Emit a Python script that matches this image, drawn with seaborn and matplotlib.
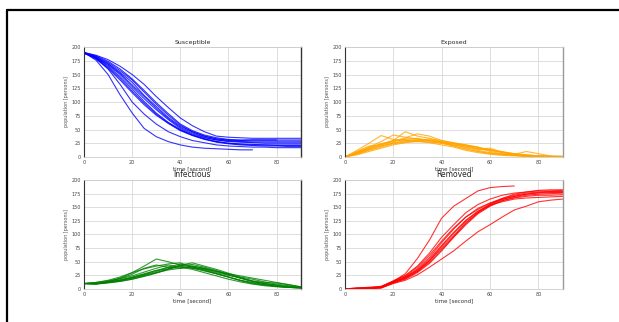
import numpy as np
import pandas as pd
import matplotlib
matplotlib.use("Agg")
import matplotlib.pyplot as plt
import seaborn as sns

# time grid of the simulation snapshots (seconds)
time = [0, 5, 10, 15, 20, 25, 30, 35, 40, 45, 50, 55, 60, 65, 70, 75, 80, 85, 90]
nan = np.nan

susceptible = [
    [190, 185, 177, 165, 150, 132, 110, 90, 71, 57, 46, 38, 36, 35, 34, 34, 34, 34, 34],
    [190, 176, 150, 113, 80, 52, 37, 28, 22, 18, 16, 15, 14, 13, 13, nan, nan, nan, nan],
    [190, 180, 160, 132, 100, 78, 60, 46, 37, 30, 26, 22, 20, 19, 18, 18, 17, 17, 17],
    [190, 182, 170, 154, 136, 112, 92, 72, 56, 46, 38, 33, 30, 29, 29, 29, 29, 29, 29],
    [189, 180, 167, 150, 128, 106, 86, 68, 52, 42, 35, 31, 29, 28, 27, 27, 27, 27, 27],
    [190, 181, 165, 146, 124, 101, 80, 63, 50, 40, 33, 28, 25, 23, 22, 22, 22, 22, 22],
    [189, 183, 172, 157, 140, 118, 96, 76, 58, 46, 38, 33, 31, 30, 31, 31, 31, nan, nan],
    [190, 179, 163, 143, 120, 98, 78, 62, 49, 40, 33, 28, 25, 24, 23, 22, 21, 21, 21],
    [188, 181, 169, 152, 131, 110, 89, 70, 54, 44, 36, 31, 28, 27, 26, 25, 25, 25, 25],
    [190, 184, 174, 160, 142, 121, 99, 79, 60, 48, 40, 35, 32, 31, 31, 31, 31, 31, 31],
    [190, 178, 161, 140, 117, 95, 76, 61, 48, 39, 32, 27, 24, 22, 21, 20, 20, 19, 19],
]

exposed = [
    [0, 8, 18, 28, 40, 36, 33, 30, 25, 20, 15, 10, 6, 4, 3, 2, 1, 1, 1],
    [0, 12, 25, 39, 32, 30, 28, 26, 22, 18, 12, 8, 5, 3, 2, 1, 1, 0, 0],
    [0, 6, 14, 20, 25, 30, 32, 28, 25, 22, 18, 14, 12, 10, 6, 4, 2, 1, 0],
    [0, 5, 12, 18, 24, 27, 30, 31, 28, 24, 20, 15, 16, 9, 5, 10, 6, 2, 1],
    [0, 10, 20, 22, 28, 35, 42, 38, 30, 25, 22, 18, 13, 8, 5, 3, 2, 1, 0],
    [0, 7, 15, 22, 30, 46, 38, 34, 28, 22, 17, 12, 8, 5, 3, 2, 1, nan, nan],
    [0, 9, 17, 24, 28, 32, 29, 27, 26, 24, 20, 15, 14, 8, 4, 2, 1, 1, 1],
    [0, 4, 10, 16, 22, 26, 28, 30, 27, 25, 21, 17, 12, 9, 6, 4, 2, 1, 1],
    [0, 8, 16, 24, 30, 33, 34, 30, 26, 20, 14, 10, 7, 5, 3, 2, 1, 1, 0],
    [0, 6, 13, 20, 26, 28, 30, 33, 30, 26, 22, 18, 10, 6, 4, 2, 2, 1, 1],
]

infectious = [
    [10, 9, 13, 20, 30, 42, 55, 50, 44, 40, 35, 28, 22, 16, 12, 8, 5, 3, 2],
    [10, 11, 14, 19, 27, 38, 44, 40, 42, 38, 33, 28, 22, 15, 10, 7, 5, 3, 2],
    [10, 10, 12, 15, 20, 26, 32, 40, 46, 42, 38, 33, 27, 20, 14, 10, 7, 4, 3],
    [10, 9, 11, 14, 18, 23, 29, 36, 44, 48, 42, 36, 29, 22, 18, 13, 9, 6, 3],
    [10, 12, 15, 19, 24, 31, 38, 44, 40, 36, 30, 24, 18, 13, 9, 6, 4, 3, 2],
    [10, 10, 12, 16, 21, 27, 34, 40, 38, 42, 38, 32, 28, 24, 20, 16, 12, 8, 4],
    [10, 9, 13, 17, 22, 28, 34, 37, 41, 38, 36, 30, 25, 21, 15, 12, 11, 8, 4],
    [10, 11, 13, 16, 20, 25, 30, 35, 38, 40, 37, 32, 26, 20, 14, 10, 7, nan, nan],
    [10, 10, 12, 14, 18, 24, 30, 37, 43, 45, 40, 34, 27, 20, 14, 10, 7, 5, 3],
    [10, 12, 16, 22, 30, 37, 42, 46, 48, 40, 34, 28, 22, 16, 11, 8, 5, 3, 2],
]

removed = [
    [0, 0, 2, 5, 14, 28, 56, 90, 130, 152, 166, 180, 186, 188, 189, nan, nan, nan, nan],
    [0, 2, 3, 4, 15, 25, 42, 66, 95, 118, 140, 155, 165, 172, 176, 178, 180, 180, 181],
    [0, 0, 1, 3, 13, 22, 37, 58, 85, 110, 132, 148, 158, 166, 172, 176, 178, 179, 179],
    [0, 1, 2, 3, 12, 20, 32, 52, 78, 102, 125, 142, 155, 164, 170, 174, 176, 177, 177],
    [0, 0, 1, 2, 11, 18, 30, 47, 70, 95, 118, 138, 152, 162, 168, 172, 174, 175, 176],
    [0, 0, 1, 2, 10, 16, 26, 40, 55, 70, 88, 105, 118, 132, 145, 152, 160, 163, 165],
    [0, 1, 2, 4, 14, 24, 40, 62, 88, 112, 132, 146, 157, 165, 170, 174, 177, 178, 178],
    [0, 0, 1, 3, 12, 21, 35, 55, 80, 104, 126, 143, 154, 160, 165, 167, 168, 169, 170],
    [0, 2, 3, 4, 13, 22, 34, 52, 75, 98, 122, 140, 153, 162, 167, 170, 172, 172, 173],
    [0, 0, 1, 2, 11, 19, 32, 49, 72, 96, 120, 140, 155, 166, 174, 178, 181, 182, 182],
]

panels = [
    ("Susceptible", susceptible, "blue"),
    ("Exposed", exposed, "orange"),
    ("Infectious", infectious, "green"),
    ("Removed", removed, "red"),
]


def to_long(runs):
    rows = []
    for i, run in enumerate(runs):
        for t, v in zip(time, run):
            rows.append({"time": t, "value": v, "run": i})
    return pd.DataFrame(rows).dropna()


sns.set_style("whitegrid")
plt.rcParams['font.family'] = ['DejaVu Sans']

fig = plt.figure(figsize=(6.19, 3.22), dpi=100)

# axes boxes in figure fractions
boxes = [
    [0.1357, 0.5124, 0.350, 0.3416],
    [0.557, 0.5124, 0.352, 0.3416],
    [0.1357, 0.1025, 0.350, 0.3385],
    [0.557, 0.1025, 0.352, 0.3385],
]

for (name, runs, col), box in zip(panels, boxes):
    ax = fig.add_axes(box)
    df = to_long(runs)
    sns.lineplot(data=df, x="time", y="value", units="run", estimator=None,
                 color=col, lw=0.8, alpha=0.8, ax=ax, legend=False)
    ax.set_xlim(0, 90)
    ax.set_ylim(0, 200)
    ax.set_xticks([0, 20, 40, 60, 80])
    ax.set_yticks(range(0, 201, 25))
    ax.tick_params(labelsize=3.5, length=0, pad=2, colors="#444444")
    ax.grid(color="#d8d8d8", lw=0.6)
    for side in ["top", "bottom"]:
        ax.spines[side].set_color("#cccccc")
        ax.spines[side].set_linewidth(0.6)
    ax.spines["left"].set_color("#333333")
    ax.spines["left"].set_linewidth(0.8)
    ax.spines["right"].set_color("#333333" if box[0] < 0.5 else "#999999")
    ax.spines["right"].set_linewidth(1.0)
    ax.set_xlabel("time [second]", fontsize=4, labelpad=1, color="#333333")
    ax.set_ylabel("population [persons]", fontsize=3.5, labelpad=2, color="#555555")
    ax.set_title(name, fontsize=4.5 if box[1] > 0.5 else 5.5, pad=2)

# outer frame (top and left edges visible)
fig.add_artist(plt.Line2D([7 / 619, 7 / 619], [0, 1 - 9.5 / 322],
                          transform=fig.transFigure, color="black", lw=1.6))
fig.add_artist(plt.Line2D([7 / 619, 1], [1 - 9.5 / 322, 1 - 9.5 / 322],
                          transform=fig.transFigure, color="black", lw=1.6))

fig.savefig("out.png", dpi=100, facecolor="white")
